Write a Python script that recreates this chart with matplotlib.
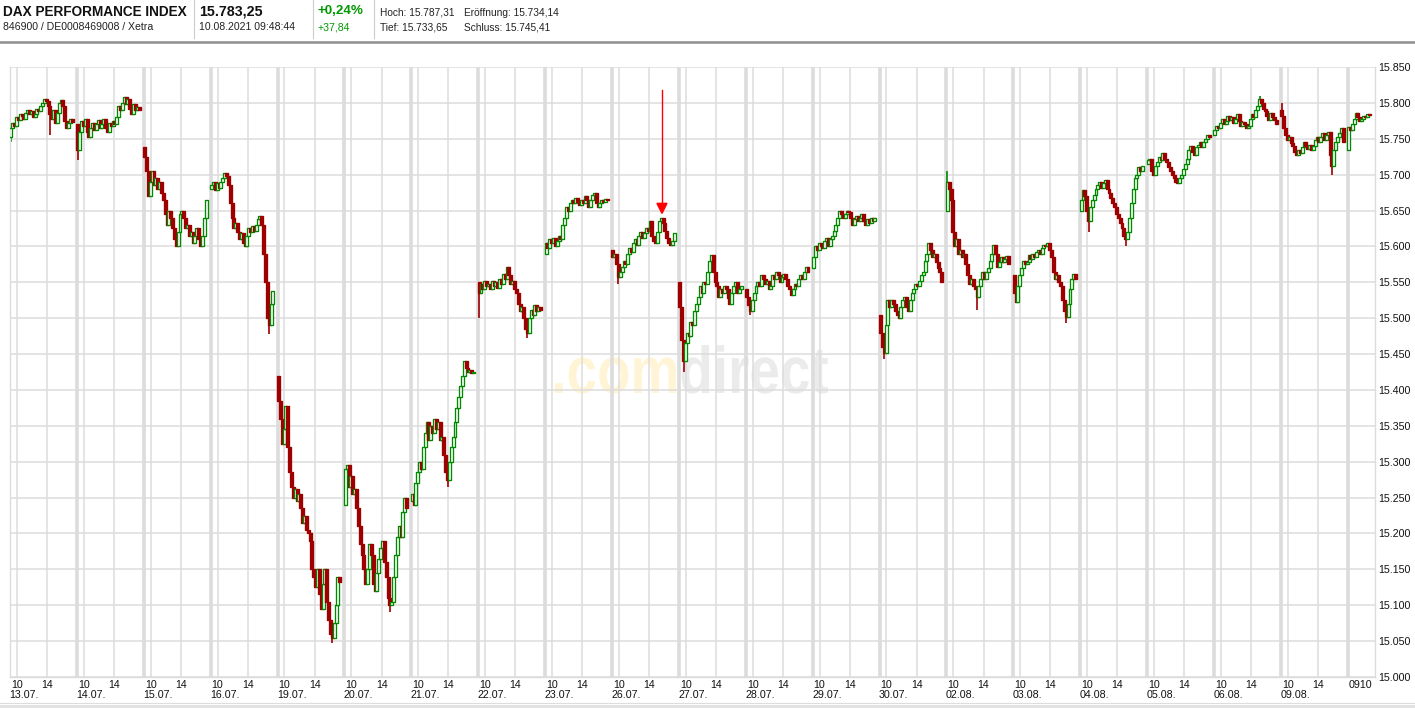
import matplotlib
matplotlib.use("Agg")
import matplotlib.pyplot as plt
from matplotlib.patches import Rectangle, PathPatch, Polygon
from matplotlib.collections import PatchCollection
from matplotlib.lines import Line2D
from matplotlib.textpath import TextPath, text_to_path
from matplotlib.font_manager import FontProperties
from matplotlib.transforms import Affine2D, IdentityTransform, blended_transform_factory

# ---------------- data ----------------
dates = ["13.07.", "14.07.", "15.07.", "16.07.", "19.07.", "20.07.", "21.07.",
         "22.07.", "23.07.", "26.07.", "27.07.", "28.07.", "29.07.", "30.07.",
         "02.08.", "03.08.", "04.08.", "05.08.", "06.08.", "09.08.", ""]
day_opens = [15752, 15770, 15738, 15680, 15420, 15240, 15245, 15550, 15590, 15595,
             15550, 15540, 15570, 15505, 15650, 15560, 15650, 15715, 15755, 15790, 15734]

d1307 = [15765, 15772, 15768, 15780, 15776, 15785, 15782, 15778, 15786, 15790, 15784, 15788,
         15780, 15785, 15792, 15788, 15796, 15800, 15806, 15802, 15795, 15784, 15778, 15790,
         15772, 15786, 15800, 15804, 15795, 15775, 15765, 15772, 15778, 15774]
d1407 = [15735, 15760, 15775, 15768, 15778, 15760, 15752, 15765, 15772, 15762, 15770, 15776,
         15765, 15770, 15778, 15765, 15760, 15772, 15768, 15775, 15770, 15780, 15795, 15790,
         15800, 15808, 15798, 15806, 15792, 15785, 15798, 15790, 15794, 15790]
d1507 = [15725, 15705, 15670, 15690, 15705, 15685, 15695, 15680, 15690, 15675, 15665, 15645,
         15630, 15650, 15640, 15625, 15610, 15600, 15620, 15645, 15650, 15640, 15625, 15630,
         15615, 15620, 15605, 15615, 15625, 15610, 15600, 15615, 15640, 15665]
d1607 = [15685, 15690, 15678, 15688, 15682, 15690, 15695, 15702, 15698, 15685, 15660, 15640,
         15625, 15632, 15620, 15610, 15618, 15605, 15600, 15615, 15625, 15620, 15628, 15622,
         15630, 15638, 15642, 15630, 15590, 15550, 15500, 15490, 15520, 15538]
d1907 = [15385, 15360, 15325, 15345, 15378, 15320, 15285, 15265, 15250, 15262, 15245, 15255,
         15235, 15215, 15225, 15205, 15200, 15190, 15150, 15140, 15125, 15150, 15115, 15095,
         15130, 15150, 15105, 15080, 15060, 15055, 15075, 15100, 15140, 15132]
d2007 = [15290, 15295, 15265, 15280, 15255, 15262, 15235, 15210, 15185, 15170, 15150, 15130,
         15150, 15185, 15170, 15130, 15120, 15145, 15165, 15180, 15190, 15160, 15140, 15110,
         15100, 15105, 15140, 15170, 15195, 15210, 15195, 15230, 15250, 15235]
d2107 = [15255, 15240, 15270, 15285, 15300, 15290, 15320, 15340, 15355, 15330, 15350, 15340,
         15360, 15345, 15355, 15330, 15335, 15310, 15285, 15275, 15300, 15320, 15335, 15355,
         15375, 15390, 15405, 15420, 15440, 15430, 15425, 15428, 15424, 15425]
d2207 = [15535, 15548, 15540, 15552, 15545, 15548, 15540, 15552, 15545, 15550, 15542, 15555,
         15548, 15562, 15555, 15572, 15560, 15548, 15552, 15540, 15535, 15520, 15510, 15515,
         15500, 15485, 15480, 15500, 15512, 15505, 15518, 15510, 15515, 15512]
d2307 = [15605, 15598, 15610, 15605, 15612, 15600, 15608, 15615, 15610, 15630, 15640, 15655,
         15650, 15660, 15665, 15660, 15668, 15662, 15658, 15665, 15660, 15670, 15665, 15655,
         15665, 15672, 15675, 15660, 15655, 15660, 15665, 15662, 15666, 15664]
d2607 = [15585, 15590, 15575, 15558, 15565, 15572, 15580, 15575, 15590, 15598, 15592, 15605,
         15610, 15602, 15615, 15620, 15612, 15618, 15625, 15622, 15635, 15615, 15608, 15605,
         15620, 15635, 15640, 15632, 15622, 15612, 15605, 15602, 15608, 15618]
d2707 = [15515, 15470, 15440, 15465, 15480, 15475, 15495, 15490, 15510, 15520, 15530, 15545,
         15535, 15550, 15548, 15565, 15580, 15588, 15565, 15550, 15545, 15530, 15540, 15535,
         15545, 15540, 15528, 15520, 15535, 15545, 15550, 15535, 15540, 15545]
d2807 = [15530, 15518, 15510, 15525, 15535, 15545, 15550, 15545, 15560, 15555, 15548, 15552,
         15540, 15545, 15560, 15555, 15565, 15560, 15550, 15558, 15562, 15555, 15545, 15540,
         15532, 15540, 15548, 15545, 15555, 15560, 15555, 15565, 15572, 15565]
d2907 = [15585, 15600, 15595, 15605, 15600, 15598, 15608, 15612, 15600, 15610, 15615, 15622,
         15630, 15640, 15650, 15645, 15640, 15645, 15650, 15648, 15640, 15630, 15638, 15642,
         15635, 15640, 15645, 15635, 15630, 15638, 15632, 15640, 15636, 15640]
d3007 = [15480, 15460, 15452, 15490, 15525, 15515, 15525, 15520, 15510, 15505, 15500, 15515,
         15525, 15530, 15515, 15510, 15525, 15535, 15540, 15548, 15545, 15552, 15560, 15565,
         15580, 15590, 15605, 15595, 15585, 15590, 15578, 15570, 15565, 15550]
d0208 = [15690, 15680, 15665, 15620, 15600, 15610, 15590, 15595, 15585, 15590, 15575, 15560,
         15548, 15555, 15545, 15540, 15530, 15545, 15555, 15565, 15555, 15565, 15570, 15580,
         15590, 15602, 15590, 15572, 15578, 15585, 15578, 15582, 15586, 15575]
d0308 = [15535, 15522, 15545, 15560, 15570, 15580, 15575, 15578, 15588, 15582, 15590, 15585,
         15592, 15595, 15590, 15598, 15602, 15600, 15605, 15595, 15585, 15565, 15555, 15560,
         15550, 15545, 15525, 15510, 15502, 15520, 15540, 15555, 15562, 15555]
d0408 = [15665, 15678, 15670, 15650, 15635, 15655, 15665, 15672, 15680, 15685, 15690, 15682,
         15688, 15692, 15680, 15675, 15668, 15660, 15655, 15645, 15640, 15632, 15625, 15615,
         15610, 15620, 15640, 15660, 15680, 15695, 15700, 15710, 15705, 15712]
d0508 = [15720, 15722, 15705, 15700, 15712, 15718, 15725, 15720, 15730, 15722, 15718, 15710,
         15705, 15700, 15695, 15690, 15688, 15695, 15700, 15708, 15715, 15722, 15735, 15740,
         15732, 15728, 15738, 15742, 15745, 15738, 15745, 15750, 15755, 15752]
d0608 = [15762, 15768, 15765, 15772, 15778, 15770, 15775, 15782, 15776, 15780, 15772, 15778,
         15785, 15775, 15768, 15774, 15770, 15765, 15768, 15778, 15785, 15780, 15790, 15795,
         15805, 15800, 15792, 15788, 15782, 15776, 15786, 15780, 15776, 15770]
d0908 = [15782, 15765, 15755, 15748, 15752, 15744, 15740, 15732, 15728, 15735, 15730, 15738,
         15745, 15740, 15736, 15742, 15735, 15740, 15748, 15752, 15746, 15752, 15758, 15748,
         15755, 15760, 15728, 15712, 15735, 15745, 15752, 15758, 15765, 15745]
d1008 = [15766, 15762, 15770, 15778, 15786, 15780, 15775, 15778, 15782, 15780, 15784, 15783]

# notable wick extremes (day index, candle index, price)
spike_day = [0, 0, 1, 3, 4, 5, 6, 7, 7, 9, 10, 11, 13, 14, 14, 15, 16, 16, 18, 19, 19]
spike_idx = [0, 21, 0, 31, 29, 24, 19, 0, 26, 3, 2, 2, 2, 0, 16, 28, 4, 24, 24, 0, 27]
spike_val = [15745, 15755, 15720, 15478, 15048, 15090, 15265, 15500, 15472, 15548, 15425,
             15505, 15443, 15705, 15512, 15493, 15620, 15600, 15810, 15800, 15700]

y_ticks = [15000, 15050, 15100, 15150, 15200, 15250, 15300, 15350, 15400,
           15450, 15500, 15550, 15600, 15650, 15700, 15750, 15800, 15850]
time_labels = ["10", "14"]
last_day_labels = ["09", "10"]
arrow_day, arrow_idx, arrow_top, arrow_tip = 9, 26.9, 15818, 15646

days = [d1307, d1407, d1507, d1607, d1907, d2007, d2107, d2207, d2307, d2607, d2707,
        d2807, d2907, d3007, d0208, d0308, d0408, d0508, d0608, d0908, d1008]

# ---------------- layout ----------------
W, H, DPI = 1415, 708, 100
SLOTS = 36
RED = "#9e0000"
GREEN = "#008a00"
GRID = "#dcdcdc"
FONT = "Liberation Sans"
plt.rcParams["font.family"] = [FONT, "DejaVu Sans"]

fig = plt.figure(figsize=(W / DPI, H / DPI), dpi=DPI)
fig.patch.set_facecolor("white")
ax_l, ax_r, ax_t, ax_b = 10, 1375, 67, 677
ax = fig.add_axes([ax_l / W, 1 - ax_b / H, (ax_r - ax_l) / W, (ax_b - ax_t) / H])
ax.set_xlim(0, (ax_r - ax_l) / 1.858)
ax.set_ylim(15000, 15850)
for s in ["top", "left", "right", "bottom"]:
    ax.spines[s].set_color(GRID)
    ax.spines[s].set_linewidth(1.0)
ax.spines["top"].set_visible(False)

# grid
for v in y_ticks:
    ax.axhline(v, color=GRID, lw=1.1, zorder=1)
for d in range(len(days)):
    base = SLOTS * d
    if d > 0:
        ax.axvline(base, color=GRID, lw=2.6, zorder=1)
    if d < len(days) - 1:
        ax.axvline(base + 3.7, color=GRID, lw=1.1, zorder=1)
        ax.axvline(base + 20.0, color=GRID, lw=1.1, zorder=1)

# y tick labels on the right
ax.yaxis.tick_right()
ax.set_yticks(y_ticks)
ax.set_yticklabels([f"{v / 1000:.3f}" for v in y_ticks], fontsize=7.7, color="#111111")
ax.tick_params(axis="y", length=0, pad=2.3)
ax.set_xticks([])

# x labels (two rows)
btr = blended_transform_factory(ax.transData, fig.transFigure)
row1, row2 = 1 - 685 / H, 1 - 694.5 / H
for d in range(len(days) - 1):
    base = SLOTS * d
    ax.text(base + 3.7, row1, time_labels[0], transform=btr, ha="center", va="center",
            fontsize=7.7, color="#111111", clip_on=False)
    ax.text(base + 20.0, row1, time_labels[1], transform=btr, ha="center", va="center",
            fontsize=7.7, color="#111111", clip_on=False)
    ax.text(base - 0.3, row2, dates[d], transform=btr, ha="left", va="center",
            fontsize=7.7, color="#111111", clip_on=False)
last_base = SLOTS * (len(days) - 1)
ax.text(last_base + 0.4, row1, last_day_labels[0] + last_day_labels[1], transform=btr,
        ha="left", va="center", fontsize=7.7, color="#111111", clip_on=False)

# candles
patches, fcs, ecs = [], [], []
spikes = {(a, b): v for a, b, v in zip(spike_day, spike_idx, spike_val)}
wx, wy0, wy1, wc = [], [], [], []
for d, closes in enumerate(days):
    o = day_opens[d]
    for k, c in enumerate(closes):
        x = SLOTS * d + 0.5 + k
        lo, hi = min(o, c), max(o, c)
        h = max(hi - lo, 1.5)
        up = c >= o
        col = GREEN if up else RED
        patches.append(Rectangle((x - 0.8, lo), 1.6, h))
        fcs.append("white" if up else RED)
        ecs.append(col)
        if (d, k) in spikes:
            v = spikes[(d, k)]
            wx.append(x)
            wy0.append(v)
            wy1.append(lo if v < lo else hi)
            wc.append(col)
        o = c
ax.vlines(wx, wy0, wy1, colors=wc, lw=1.2, zorder=2.5)
pc = PatchCollection(patches, facecolors=fcs, edgecolors=ecs, linewidths=0.95, zorder=3)
ax.add_collection(pc)

# red arrow
ax_x = SLOTS * arrow_day + arrow_idx
ax.plot([ax_x, ax_x], [arrow_top, arrow_tip + 12], color="#ff0000", lw=1.0, zorder=4)
ax.add_patch(Polygon([[ax_x - 2.7, arrow_tip + 14], [ax_x + 2.7, arrow_tip + 14],
                      [ax_x, arrow_tip]], closed=True, color="#ff0000", zorder=4))

# watermark
fpb = FontProperties(family=FONT, weight="bold", size=100)
tp_com = TextPath((0, 0), ".com", size=100, prop=fpb)
w_com, _, _ = text_to_path.get_text_width_height_descent(".com", fpb, ismath=False)
tp_dir = TextPath((w_com, 0), "direct", size=100, prop=fpb)
e1, e2 = tp_com.get_extents(), tp_dir.get_extents()
x0, x1 = e1.x0, e2.x1
y1 = max(e1.y1, e2.y1)
sx, sy = (828 - 555) / (x1 - x0), 48 / y1
tr = Affine2D().translate(-x0, 0).scale(sx, sy).translate(555, H - 393)
for tp, colr in [(tp_com, "#fff5d6"), (tp_dir, "#ebebeb")]:
    pp = PathPatch(tp, facecolor=colr, edgecolor="none", transform=tr + IdentityTransform(),
                   zorder=0.5, clip_on=False)
    ax.add_patch(pp)

# header
def ftxt(x, y, s, **kw):
    fig.text(x / W, 1 - y / H, s, va="center", ha="left", **kw)

ftxt(3, 11.5, "DAX PERFORMANCE INDEX", fontsize=9.8, fontweight="bold", color="#111111")
ftxt(3, 27.5, "846900 / DE0008469008 / Xetra", fontsize=7.6, color="#222222")
ftxt(199, 11.5, "15.783,25", fontsize=10.3, fontweight="bold", color="#111111")
ftxt(199, 27.5, "10.08.2021 09:48:44", fontsize=7.6, color="#222222")
ftxt(318, 11.5, "+0,24%", fontsize=9.6, fontweight="bold", color="#009900")
ftxt(318, 27.5, "+37,84", fontsize=7.6, color="#009900")
ftxt(380, 12.5, "Hoch: 15.787,31", fontsize=7.3, color="#222222")
ftxt(464, 12.5, "Eröffnung: 15.734,14", fontsize=7.3, color="#222222")
ftxt(380, 27.5, "Tief: 15.733,65", fontsize=7.3, color="#222222")
ftxt(464, 27.5, "Schluss: 15.745,41", fontsize=7.3, color="#222222")
for xv in [194, 313, 374]:
    fig.add_artist(Line2D([xv / W, xv / W], [1 - 0 / H, 1 - 38 / H], color="#cccccc", lw=0.8))
fig.add_artist(Line2D([0, 1], [1 - 41.5 / H, 1 - 41.5 / H], color="#8f8f8f", lw=1.8))
fig.add_artist(Line2D([0, 1], [1 - 703 / H, 1 - 703 / H], color="#dddddd", lw=0.8))
fig.add_artist(Rectangle((0, 0), 1, 3.5 / H, transform=fig.transFigure,
                         facecolor="#e3e3e3", edgecolor="none"))

fig.savefig("out.png", dpi=DPI, facecolor="white")
